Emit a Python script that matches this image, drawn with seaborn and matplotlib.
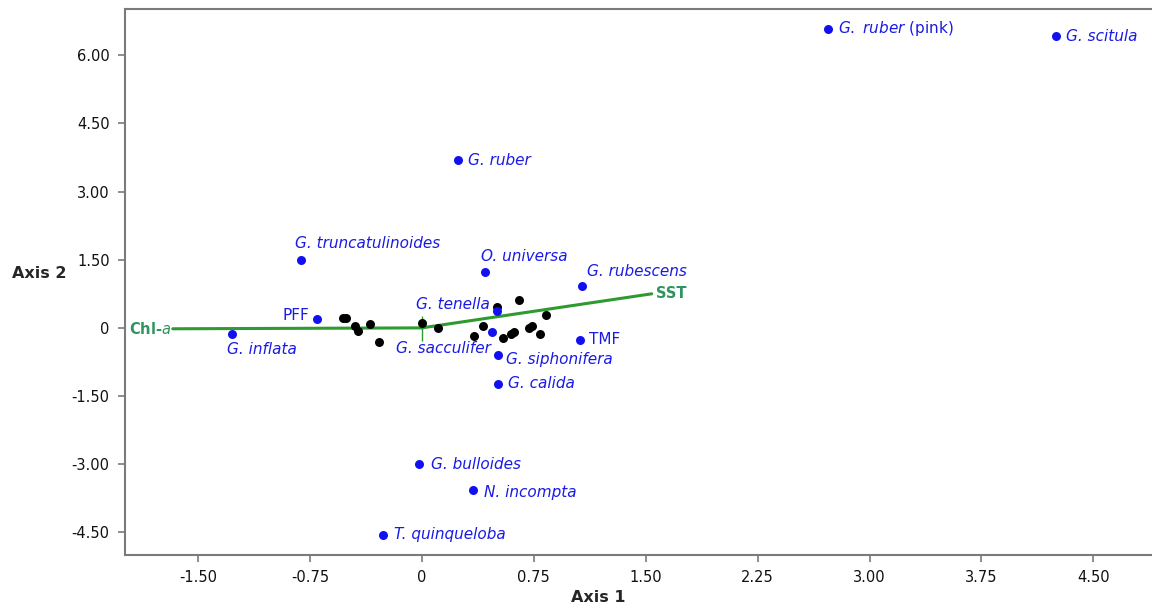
import matplotlib
matplotlib.use("Agg")
import matplotlib.pyplot as plt
import seaborn as sns
import pandas as pd

# ---- data ----
species = ["G. ruber (pink)", "G. scitula", "G. ruber", "G. truncatulinoides",
           "O. universa", "G. rubescens", "PFF", "G. tenella", "G. sacculifer",
           "G. siphonifera", "TMF", "G. calida", "G. inflata", "G. bulloides",
           "N. incompta", "T. quinqueloba"]
species_x = [2.72, 4.25, 0.24, -0.81, 0.42, 1.07, -0.70, 0.50, 0.47,
             0.51, 1.06, 0.51, -1.27, -0.02, 0.34, -0.26]
species_y = [6.59, 6.42, 3.69, 1.49, 1.23, 0.92, 0.20, 0.37, -0.09,
             -0.59, -0.26, -1.23, -0.13, -2.99, -3.58, -4.55]

sample_x = [-0.53, -0.51, -0.45, -0.43, -0.35, -0.29, 0.00, 0.11, 0.35, 0.41,
            0.50, 0.65, 0.54, 0.60, 0.62, 0.72, 0.74, 0.79, 0.83]
sample_y = [0.22, 0.22, 0.04, -0.07, 0.09, -0.31, 0.11, 0.00, -0.18, 0.04,
            0.45, 0.62, -0.22, -0.13, -0.09, 0.00, 0.04, -0.13, 0.29]

env_names = ["Chl-a", "SST"]
env_x = [-1.67, 1.54]
env_y = [-0.02, 0.75]

x_ticks = [-1.50, -0.75, 0, 0.75, 1.50, 2.25, 3.00, 3.75, 4.50]
x_tick_labels = ["-1.50", "-0.75", "0", "0.75", "1.50", "2.25", "3.00", "3.75", "4.50"]
y_ticks = [-4.50, -3.00, -1.50, 0, 1.50, 3.00, 4.50, 6.00]
y_tick_labels = ["-4.50", "-3.00", "-1.50", "0", "1.50", "3.00", "4.50", "6.00"]

# ---- styling ----
sns.set_style("white")
plt.rcParams["font.family"] = ["DejaVu Sans"]

BLUE = "#1010f0"
TEXT_BLUE = "#1a1ae6"
GREEN = "#2f9a2f"
GREEN_TXT = "#2e9460"
GRAY = "#7a7a7a"

fig = plt.figure(figsize=(11.52, 6.08), dpi=100)
ax = fig.add_axes([125 / 1152, 1 - 555 / 608, 1 - 125 / 1152 + 0.01, (555 - 9) / 608])

# environmental vectors (from origin)
for ex, ey in zip(env_x, env_y):
    sns.lineplot(x=[0, ex], y=[0, ey], ax=ax, color=GREEN, lw=2.2, zorder=2)
ax.plot([0], [0], marker="|", ms=18, mew=1.0, color=GREEN, zorder=2)

df_s = pd.DataFrame({"x": sample_x, "y": sample_y})
sns.scatterplot(data=df_s, x="x", y="y", ax=ax, color="black", s=42,
                edgecolor="black", linewidth=0, zorder=3)
df_sp = pd.DataFrame({"x": species_x, "y": species_y, "name": species})
sns.scatterplot(data=df_sp, x="x", y="y", ax=ax, color=BLUE, s=42,
                edgecolor=BLUE, linewidth=0, zorder=4)

# label offsets (pixels) and alignment
offsets = {
    "G. ruber (pink)": (10, 0, "left"),
    "G. scitula": (10, 0, "left"),
    "G. ruber": (10, 0, "left"),
    "G. truncatulinoides": (-6, 17, "left"),
    "O. universa": (-4, 16, "left"),
    "G. rubescens": (5, 15, "left"),
    "PFF": (-8, 3, "right"),
    "G. tenella": (-7, 7, "right"),
    "G. sacculifer": (-1, -17, "right"),
    "G. siphonifera": (8, -5, "left"),
    "TMF": (9, 0, "left"),
    "G. calida": (10, 0, "left"),
    "G. inflata": (-5, -16, "left"),
    "G. bulloides": (12, -1, "left"),
    "N. incompta": (11, -2, "left"),
    "T. quinqueloba": (11, 0, "left"),
}
for name, x, y in zip(species, species_x, species_y):
    dx, dy, ha = offsets[name]
    if name in ("PFF", "TMF"):
        label, style = name, "normal"
    elif name.endswith("(pink)"):
        label, style = r"$\it{G.\ ruber}$ (pink)", "normal"
    else:
        label, style = name, "italic"
    ax.annotate(label, (x, y), xytext=(dx, dy), textcoords="offset pixels",
                ha=ha, va="center", fontsize=11, color=TEXT_BLUE, style=style,
                zorder=5)

env_offsets = {"Chl-a": (-2, 0, "right"), "SST": (4, 0, "left")}
for name, x, y in zip(env_names, env_x, env_y):
    dx, dy, ha = env_offsets[name]
    label = r"Chl-$\mathbf{\it{a}}$" if name == "Chl-a" else name
    ax.annotate(label, (x, y), xytext=(dx, dy), textcoords="offset pixels",
                ha=ha, va="center", fontsize=10.5, color=GREEN_TXT,
                fontweight="bold", zorder=5)

ax.set_xlim(-1.99, 4.97)
ax.set_ylim(-5.0, 7.02)
ax.set_xticks(x_ticks)
ax.set_xticklabels(x_tick_labels)
ax.set_yticks(y_ticks)
ax.set_yticklabels(y_tick_labels)
ax.tick_params(axis="both", direction="out", length=5, width=1.2, color=GRAY,
               labelsize=10.5, labelcolor="#111111", pad=6, bottom=True, left=True)

for side in ["left", "top", "bottom"]:
    ax.spines[side].set_color(GRAY)
    ax.spines[side].set_linewidth(1.5)
ax.spines["right"].set_visible(False)

ax.set_xlabel("")
ax.set_ylabel("")
fig.text(598 / 1152, 1 - 597 / 608, "Axis 1", fontsize=11.5, fontweight="bold",
         ha="center", va="center")
fig.text(12 / 1152, 1 - 273 / 608, "Axis 2", fontsize=11.5, fontweight="bold",
         ha="left", va="center")

fig.savefig("out.png", dpi=100)
